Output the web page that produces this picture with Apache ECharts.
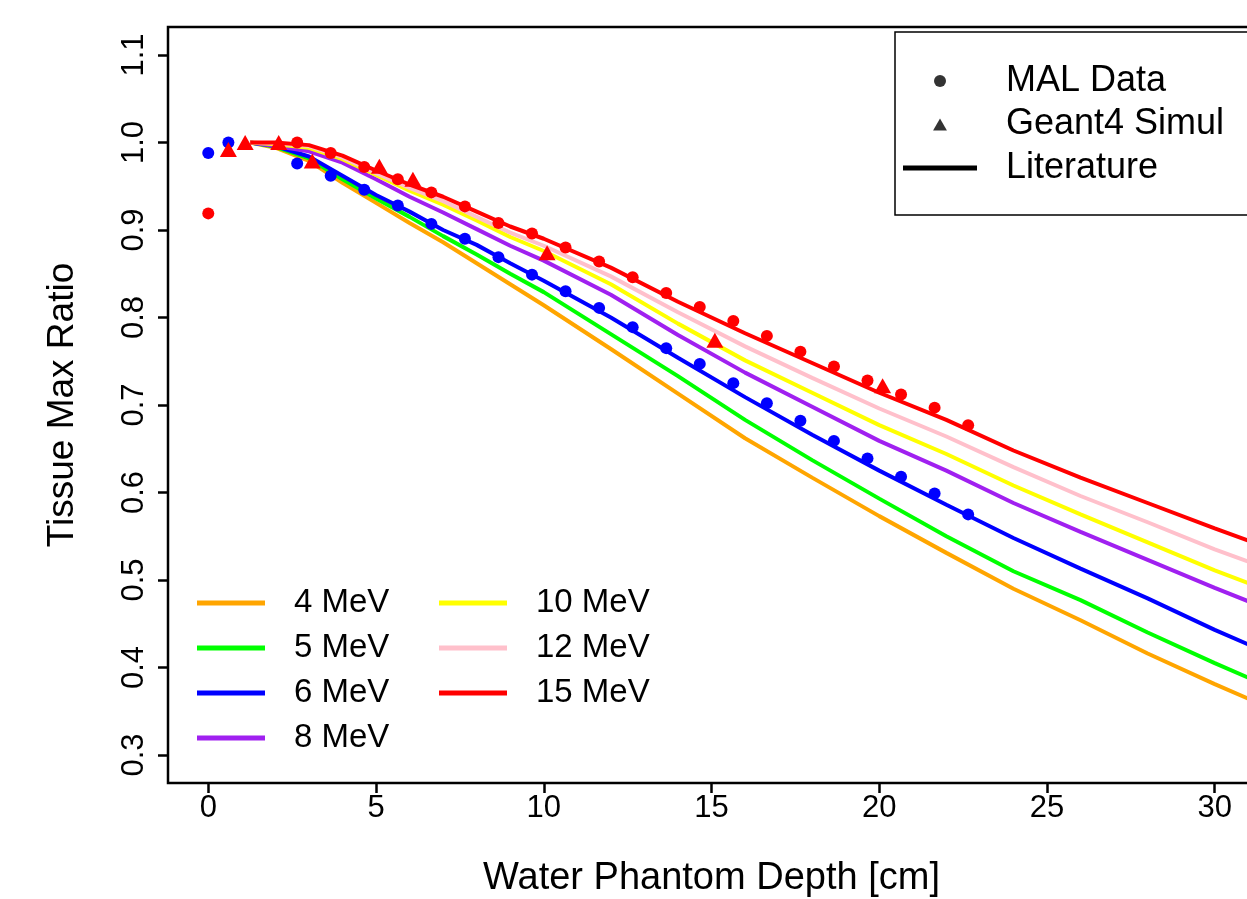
<!DOCTYPE html>
<html><head><meta charset="utf-8">
<script src="https://cdn.jsdelivr.net/npm/echarts@6.0.0/dist/echarts.min.js"></script>
<style>html,body{margin:0;padding:0;background:#fff}#c{width:1247px;height:899px}</style>
</head><body><div id="c"></div>
<script>
// ---- data ----
const xTicks = [0, 5, 10, 15, 20, 25, 30];
const yTicks = [0.3, 0.4, 0.5, 0.6, 0.7, 0.8, 0.9, 1.0, 1.1];

// Literature curves (depth in cm)
const litDepth = [1.25, 2, 3, 4, 5, 6, 7, 8, 9, 10, 12, 14, 16, 18, 20, 22, 24, 26, 28, 30, 31.5];
const lit4  = [1.0, .994, .979, .954, .931, .908, .886, .862, .838, .814, .764, .713, .662, .617, .573, .531, .490, .454, .416, .381, .356];
const lit5  = [1.0, .995, .982, .958, .936, .915, .893, .872, .850, .829, .781, .733, .683, .637, .593, .550, .510, .477, .440, .405, .380];
const lit6  = [1.0, .996, .984, .962, .940, .921, .900, .883, .862, .842, .800, .754, .709, .666, .625, .586, .548, .513, .479, .443, .418];
const lit8  = [1.0, .996, .990, .977, .958, .938, .920, .901, .882, .865, .826, .780, .737, .698, .659, .625, .588, .555, .523, .491, .468];
const lit10 = [1.0, .998, .994, .981, .963, .945, .929, .911, .892, .876, .838, .793, .751, .714, .677, .644, .608, .575, .543, .511, .489];
const lit12 = [1.0, .999, .996, .983, .965, .948, .933, .915, .897, .882, .847, .806, .767, .731, .696, .664, .629, .596, .566, .535, .514];
const lit15 = [1.0, 1.0, .997, .985, .968, .952, .938, .921, .904, .890, .857, .818, .782, .748, .714, .683, .648, .617, .588, .559, .538];

const litNames  = ['4 MeV', '5 MeV', '6 MeV', '8 MeV', '10 MeV', '12 MeV', '15 MeV'];
const litColors = ['#FFA500', '#00FF00', '#0000FF', '#A020F0', '#FFFF00', '#FFC0CB', '#FF0000'];

// MAL measured data
const malDepth = [0, 0.6, 2.65, 3.65, 4.65, 5.65, 6.65, 7.65, 8.65, 9.65, 10.65, 11.65, 12.65, 13.65, 14.65, 15.65, 16.65, 17.65, 18.65, 19.65, 20.65, 21.65, 22.65];
const mal6  = [.988, 1.0, .976, .962, .946, .928, .907, .890, .869, .849, .830, .811, .789, .765, .747, .725, .702, .682, .659, .639, .618, .599, .575];
const mal15 = [.919, null, 1.0, .988, .972, .958, .943, .927, .908, .896, .880, .864, .846, .828, .812, .796, .779, .761, .744, .728, .712, .697, .677];

// Geant4 simulation (15 MeV)
const g4Depth = [0.6, 1.1, 2.1, 3.1, 5.1, 6.1, 10.1, 15.1, 20.1];
const g4_15   = [.992, 1.0, 1.0, .979, .973, .958, .874, .774, .722];

// ---- chart ----
const FF = '"Liberation Sans", Arial, sans-serif';
const pairs = (xs, ys) => xs.map((x, i) => [x, ys[i]]).filter(p => p[1] !== null);
const litData = [lit4, lit5, lit6, lit8, lit10, lit12, lit15];

const series = [];
litNames.forEach((n, i) => {
  series.push({
    name: n, type: 'line', data: pairs(litDepth, litData[i]),
    symbol: 'none', showSymbol: false, z: 2,
    lineStyle: { color: litColors[i], width: 4 },
    itemStyle: { color: litColors[i] }
  });
});
series.push({ name: 'MAL 6', type: 'scatter', data: pairs(malDepth, mal6), symbol: 'circle', symbolSize: 12, itemStyle: { color: '#0000FF', opacity: 1 }, z: 3 });
series.push({ name: 'MAL 15', type: 'scatter', data: pairs(malDepth, mal15), symbol: 'circle', symbolSize: 12, itemStyle: { color: '#FF0000', opacity: 1 }, z: 3 });
series.push({ name: 'G4 15', type: 'scatter', data: pairs(g4Depth, g4_15), symbol: 'triangle', symbolSize: [17, 15], itemStyle: { color: '#FF0000', opacity: 1 }, z: 3 });
// legend-only entries
series.push({ name: 'MAL Data', type: 'scatter', data: [], itemStyle: { color: '#000' } });
series.push({ name: 'Geant4 Simul', type: 'scatter', data: [], itemStyle: { color: '#000' } });
series.push({ name: 'Literature', type: 'line', data: [], itemStyle: { color: '#000' }, lineStyle: { color: '#000' } });

const botLegend = (left, names) => ({
  orient: 'vertical', left: left, top: 585, padding: 0, itemGap: 9,
  itemWidth: 68, itemHeight: 5, icon: 'rect', selectedMode: false,
  textStyle: { fontSize: 33, lineHeight: 36, color: '#000', fontFamily: FF, padding: [0, 0, 0, 24] },
  data: names
});

const chart = echarts.init(document.getElementById('c'), null, { renderer: 'canvas' });
chart.setOption({
  animation: false,
  backgroundColor: '#fff',
  grid: { left: 168, top: 27, width: 1087, height: 756, show: true, borderColor: '#000', borderWidth: 2.5, containLabel: false, outerBoundsMode: 'none' },
  xAxis: {
    type: 'value', min: -1.2, max: 31.2,
    name: 'Water Phantom Depth [cm]', nameLocation: 'middle', nameGap: 77,
    nameTextStyle: { fontSize: 38, color: '#000', fontFamily: FF },
    axisLine: { show: false, onZero: false },
    axisTick: { show: true, length: 10, inside: false, customValues: xTicks, lineStyle: { color: '#000', width: 2.5 } },
    axisLabel: { customValues: xTicks, fontSize: 31, color: '#000', fontFamily: FF, margin: 10 },
    splitLine: { show: false }
  },
  yAxis: {
    type: 'value', min: 0.268, max: 1.132,
    name: 'Tissue Max Ratio', nameLocation: 'middle', nameGap: 87,
    nameTextStyle: { fontSize: 37, color: '#000', fontFamily: FF },
    axisLine: { show: false, onZero: false },
    axisTick: { show: true, length: 10, inside: false, customValues: yTicks, lineStyle: { color: '#000', width: 2.5 } },
    axisLabel: { customValues: yTicks, fontSize: 31, color: '#000', fontFamily: FF, margin: 18, rotate: 90, formatter: v => v.toFixed(1) },
    splitLine: { show: false }
  },
  legend: [
    {
      orient: 'vertical', left: 895, top: 32, padding: [31, 120, 29, 8], itemGap: 7.5,
      itemWidth: 74, itemHeight: 12, selectedMode: false,
      borderColor: '#000', borderWidth: 1.5, backgroundColor: '#fff',
      textStyle: { fontSize: 36, lineHeight: 36, color: '#000', fontFamily: FF, padding: [0, 0, 0, 24] },
      data: [
        { name: 'MAL Data', icon: 'circle' },
        { name: 'Geant4 Simul', icon: 'path://M6,0L12,10.4L0,10.4Z' },
        { name: 'Literature', icon: 'path://M0,0H74V5H0Z' }
      ]
    },
    botLegend(197, ['4 MeV', '5 MeV', '6 MeV', '8 MeV']),
    botLegend(439, ['10 MeV', '12 MeV', '15 MeV'])
  ],
  series: series
});
</script>
</body></html>
